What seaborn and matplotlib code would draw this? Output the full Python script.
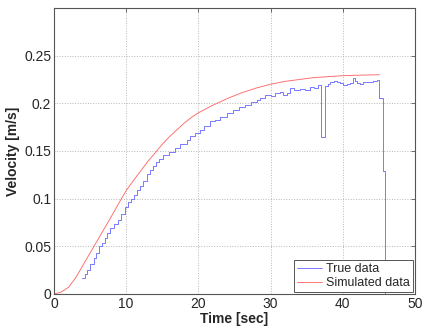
import pandas as pd
import matplotlib
matplotlib.use('Agg')
import matplotlib.pyplot as plt
import seaborn as sns

# simulated velocity
sim_time = [0, 1, 2, 3, 4, 5, 6, 7, 8, 9, 10, 11, 12, 13, 14, 15, 16, 17, 18, 19, 20,
            22, 24, 26, 28, 30, 32, 34, 36, 38, 40, 42, 45.1]
sim_vel = [0, 0.002, 0.007, 0.017, 0.030, 0.043, 0.056, 0.069, 0.082, 0.0955, 0.1085,
           0.119, 0.129, 0.139, 0.148, 0.157, 0.165, 0.172, 0.179, 0.185, 0.190,
           0.198, 0.205, 0.211, 0.216, 0.220, 0.223, 0.225, 0.227, 0.228, 0.229, 0.2295, 0.230]

true_time = [3.9, 4.3, 4.6, 5.0, 5.5, 5.8, 6.2, 6.6, 7.0, 7.4, 7.8, 8.3, 8.8, 9.3, 9.8,
             10.3, 10.7, 11.1, 11.5, 11.9, 12.4, 12.9, 13.3, 13.7, 14.1, 14.6, 15.1,
             15.9, 16.8, 17.5, 18.4, 18.8, 19.5, 20.2, 20.8, 21.6, 22.3, 23.0, 24.0,
             24.8, 25.6, 26.5, 27.3, 28.1, 28.6, 29.2, 30.0, 30.6, 31.3, 31.8, 32.3,
             32.7, 33.3, 34.1, 34.8, 35.5, 36.0, 36.6, 37.0, 37.6, 38.0, 38.3, 38.8,
             39.2, 39.7, 40.1, 40.6, 41.0, 41.4, 41.7, 42.0, 42.4, 42.8, 43.5, 44.2,
             44.7, 45.1, 45.6, 45.85, 45.9]
true_vel = [0.0165, 0.021, 0.025, 0.031, 0.0375, 0.043, 0.050, 0.054, 0.059, 0.064,
            0.069, 0.073, 0.078, 0.084, 0.0917, 0.096, 0.100, 0.104, 0.109, 0.113,
            0.119, 0.126, 0.130, 0.134, 0.138, 0.142, 0.146, 0.149, 0.153, 0.157,
            0.162, 0.166, 0.169, 0.172, 0.176, 0.181, 0.183, 0.186, 0.190, 0.193,
            0.196, 0.1985, 0.201, 0.204, 0.2055, 0.209, 0.208, 0.2105, 0.212, 0.209,
            0.2105, 0.216, 0.214, 0.2155, 0.214, 0.217, 0.216, 0.2188, 0.165, 0.218,
            0.2205, 0.222, 0.223, 0.222, 0.221, 0.2195, 0.220, 0.2215, 0.2265, 0.223,
            0.2215, 0.2205, 0.222, 0.2225, 0.2233, 0.224, 0.2055, 0.129, 0.0, 0.0]

sim_df = pd.DataFrame({'Time': sim_time, 'Velocity': sim_vel})
true_df = pd.DataFrame({'Time': true_time, 'Velocity': true_vel})

sns.set_style('white')
plt.rcParams['font.family'] = ['Liberation Sans', 'DejaVu Sans']
plt.rcParams['xtick.direction'] = 'in'
plt.rcParams['ytick.direction'] = 'in'

fig = plt.figure(figsize=(4.22, 3.29), dpi=100)
ax = fig.add_axes([0.128, 0.1064, 0.855, 0.8693])

sns.lineplot(data=true_df, x='Time', y='Velocity', ax=ax, color='#7070ff',
             linewidth=0.65, drawstyle='steps-post', label='True data')
sns.lineplot(data=sim_df, x='Time', y='Velocity', ax=ax, color='#ff6a6a',
             linewidth=0.65, label='Simulated data')

ax.set_xlim(0, 50)
ax.set_ylim(0, 0.3)
ax.set_xticks([0, 10, 20, 30, 40, 50])
ax.set_yticks([0, 0.05, 0.1, 0.15, 0.2, 0.25])
ax.set_yticklabels(['0', '0.05', '0.1', '0.15', '0.2', '0.25'])
ax.tick_params(labelsize=10, length=3, width=0.6, top=True, right=True, pad=2,
               color='#555555')
ax.grid(True, linestyle=':', color='#b8b8b8', linewidth=0.7)
for sp in ax.spines.values():
    sp.set_color('#555555')
    sp.set_linewidth(0.8)

ax.set_xlabel('Time [sec]', fontsize=10, fontweight='bold', labelpad=1)
ax.set_ylabel('Velocity [m/s]', fontsize=10, fontweight='bold', labelpad=3)

leg = ax.legend(loc='lower right', fontsize=9, frameon=True, fancybox=False,
                borderpad=0.25, handlelength=2.0, handletextpad=0.3,
                labelspacing=0.15, borderaxespad=0.15, framealpha=1)
leg.get_frame().set_edgecolor('#555555')
leg.get_frame().set_linewidth(0.7)

plt.savefig('out.png', dpi=100)
